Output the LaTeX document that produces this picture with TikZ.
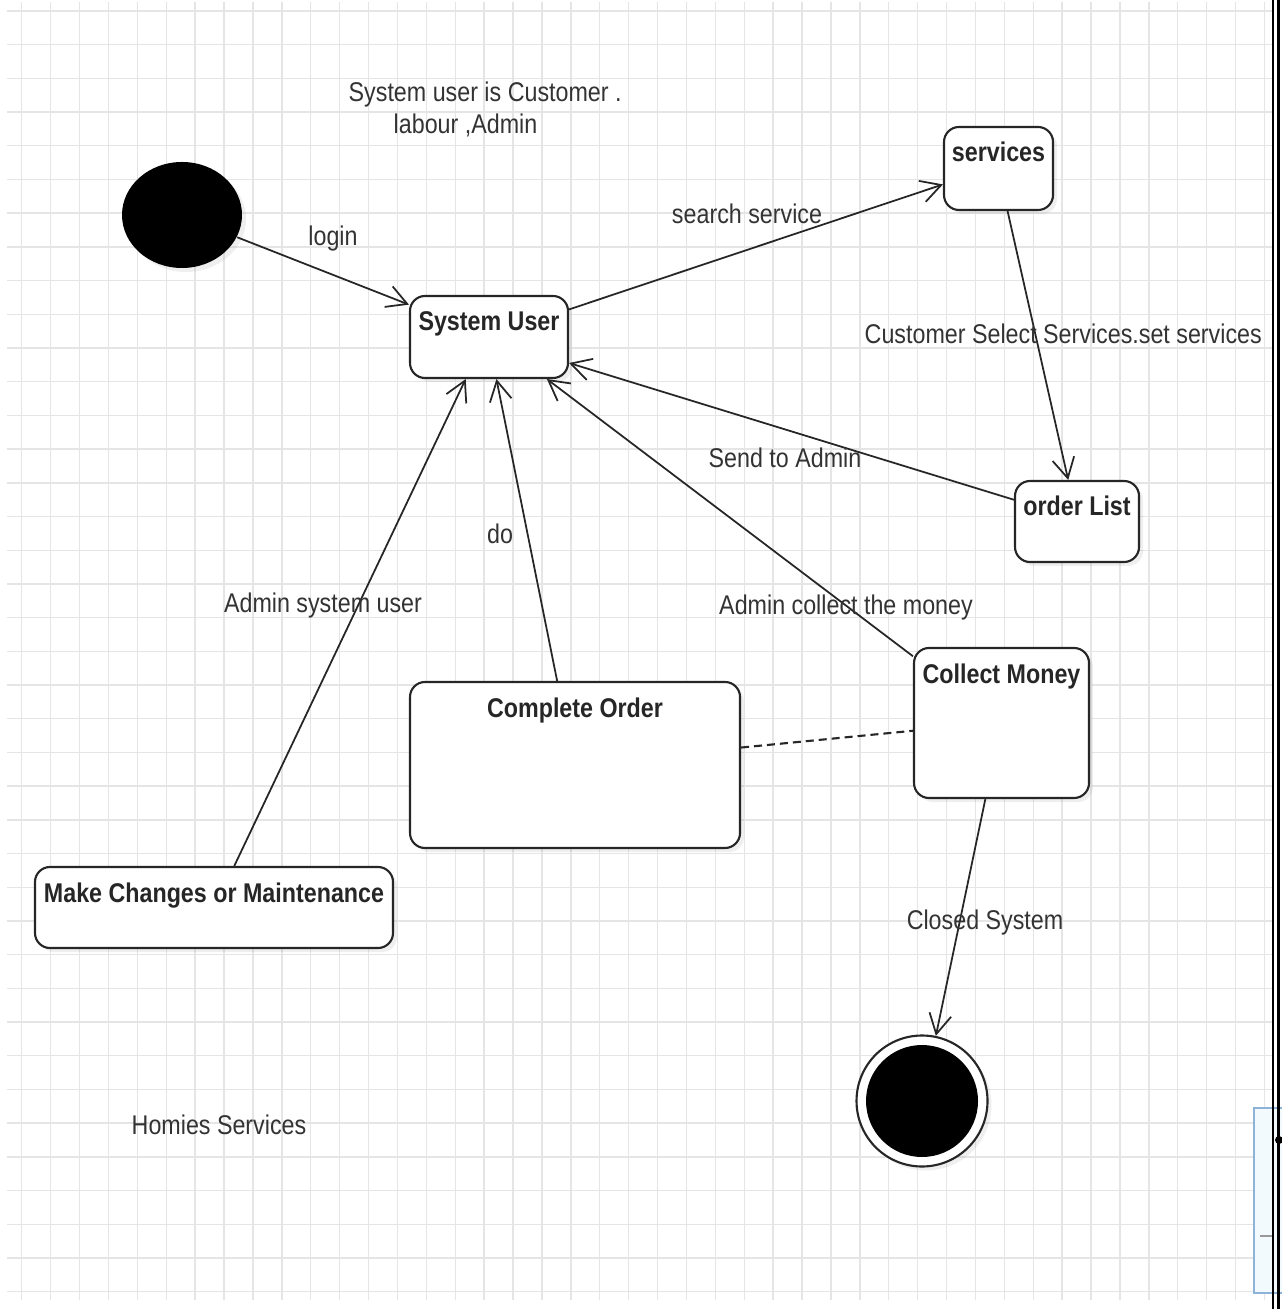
\documentclass[tikz,border=0pt]{standalone}
\usepackage{fontspec}
\setmainfont{Liberation Sans}[FakeStretch=0.86]
\usetikzlibrary{shapes.geometric,arrows.meta,shadows,calc}
\definecolor{panelfill}{HTML}{F2FAFD}
\definecolor{panelline}{HTML}{8DB3D9}

\begin{document}
\begin{tikzpicture}[
  statebox/.style={draw=black!85, line width=0.6pt, rounded corners=0.15cm, fill=white,
    font=\bfseries\fontsize{7.7}{9}\selectfont, text=black!85, text height=0.27cm,
    inner xsep=0pt, inner ysep=0.08cm,
    drop shadow={shadow xshift=0.04cm, shadow yshift=-0.04cm, opacity=0.12}},
  note/.style={font=\fontsize{7.7}{9}\selectfont, text=black!80, inner sep=0pt},
  flow/.style={draw=black!85, line width=0.5pt, -{Straight Barb[length=0.2cm,width=0.22cm]}},
  gridline/.style={black!10, line width=0.4pt}]
\useasboundingbox[fill=white] (0,0) rectangle (12.81,-13.09);

%% grid
\foreach \k in {0,...,43} \draw[gridline] ({0.217+0.289*\k},-0.02) -- ({0.217+0.289*\k},-13.0);
\foreach \k in {0,...,38} \draw[gridline] (0.07,{-0.11-0.337*\k}) -- (12.72,{-0.11-0.337*\k});

%% states
\node[ellipse, fill=black, minimum width=1.2cm, minimum height=1.06cm, inner sep=0pt,
  drop shadow={shadow xshift=0.04cm, shadow yshift=-0.04cm, opacity=0.12}] (start) at (1.82,-2.15) {};
\node[statebox, minimum width=1.58cm, text depth=0.39cm] (sysuser) at (4.89,-3.37) {System User};
\node[statebox, minimum width=1.09cm, text depth=0.40cm] (services) at (9.985,-1.685) {services};
\node[statebox, minimum width=1.24cm, text depth=0.38cm] (orderlist) at (10.77,-5.215) {order List};
\node[statebox, minimum width=1.75cm, text depth=1.07cm] (collect) at (10.015,-7.23) {Collect Money};
\node[statebox, minimum width=3.30cm, text depth=1.23cm] (complete) at (5.75,-7.65) {Complete Order};
\node[statebox, minimum width=3.58cm, text depth=0.38cm] (maint) at (2.14,-9.075) {Make Changes or Maintenance};
\node[circle, draw=black!85, line width=0.6pt, fill=white, minimum size=1.31cm, inner sep=0pt,
  drop shadow={shadow xshift=0.04cm, shadow yshift=-0.04cm, opacity=0.12}] (stop) at (9.22,-11.01) {};
\fill (stop.center) circle (0.56);

%% transitions
\draw[flow] (start.-22) -- (sysuser.158);
\draw[flow] (sysuser.19) -- (services.-164);
\draw[flow] (services.-78) -- (orderlist.102);
\draw[flow] (orderlist.161) -- (sysuser.-18);
\draw[flow] (collect.143) -- (sysuser.-36);
\draw[flow] (complete.102) -- (sysuser.-80);
\draw[flow] (maint.64) -- (sysuser.-119);
\draw[flow] (collect.-102) -- (stop.78);
\draw[draw=black!85, line width=0.6pt, dash pattern=on 0.08cm off 0.05cm] (complete.6) -- (collect.185);

%% texts
\node[note, anchor=base west] (info1) at (3.48,-1.02) {System user is Customer .};
\node[note, anchor=base west] (info2) at (3.93,-1.34) {labour ,Admin};
\node[note, anchor=base] (tlogin) at (3.33,-2.46) {login};
\node[note, anchor=base] (tsearch) at (7.47,-2.24) {search service};
\node[note, anchor=base west] (tselect) at (8.64,-3.44) {Customer Select Services.set services};
\node[note, anchor=base] (tsend) at (7.85,-4.68) {Send to Admin};
\node[note, anchor=base] (tdo) at (5.00,-5.44) {do};
\node[note, anchor=base] (tadmin) at (3.23,-6.13) {Admin system user};
\node[note, anchor=base] (tmoney) at (8.46,-6.15) {Admin collect the money};
\node[note, anchor=base] (tclosed) at (9.85,-9.29) {Closed System};
\node[note, anchor=base] (title) at (2.19,-11.34) {Homies Services};

%% right edge of the window
\filldraw[fill=panelfill, draw=panelline, line width=0.6pt] (12.54,-11.08) rectangle (12.95,-12.93);
\draw[black!40, line width=0.5pt] (12.60,-12.36) -- (12.72,-12.36);
\draw[black, line width=0.7pt] (12.73,0) -- (12.73,-13.09);
\draw[black, line width=0.9pt] (12.785,0) -- (12.785,-13.09);
\fill (12.79,-11.40) circle (0.04);
\end{tikzpicture}
\end{document}
